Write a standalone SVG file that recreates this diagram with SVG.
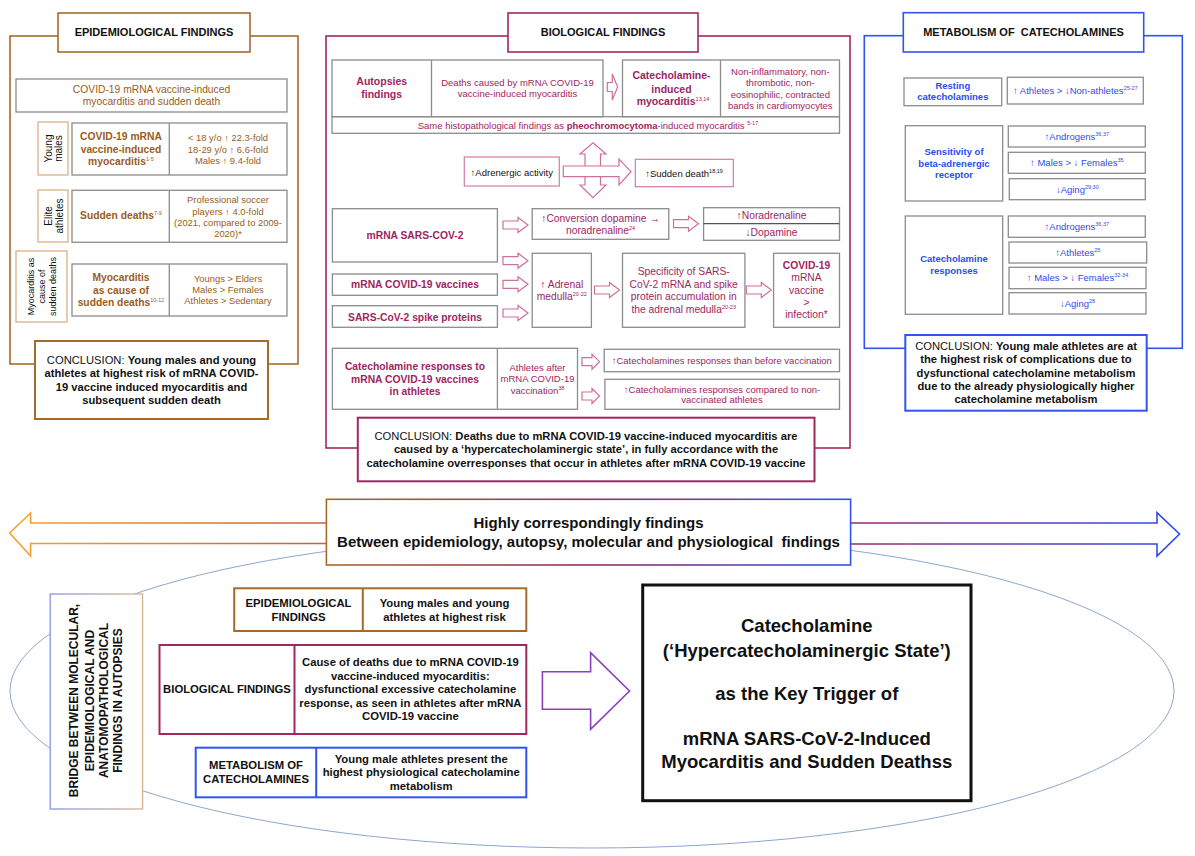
<svg xmlns="http://www.w3.org/2000/svg" width="1195" height="856" viewBox="0 0 1195 856">
<defs>
<style>
text{font-family:"Liberation Sans",Arial,Helvetica,sans-serif;text-anchor:middle}
.b{font-weight:bold}
.br{fill:#9a5c1c}
.mr{fill:#a02560}
.bl{fill:#2a4df0}
.k{fill:#111}
.gb{fill:#fff;stroke:#8c8c8c;stroke-width:1.3}
.gl{stroke:#8c8c8c;stroke-width:1.3}
.pk{fill:#fff;stroke:#d07ea6;stroke-width:1.2}
.pa{fill:#fff;stroke:#cf6f9c;stroke-width:1.2}
.fb{fill:#fff;stroke:#a86a2b;stroke-width:1.6}
.fm{fill:#fff;stroke:#a3275f;stroke-width:1.6}
.fl{fill:#fff;stroke:#2f54f0;stroke-width:1.6}
.lb{fill:#fff;stroke:#dbb084;stroke-width:1.3}
.s10{font-size:10.3px}
.s94{font-size:9.4px}
.s95{font-size:9.5px}
.s11{font-size:11.2px}
.bt{font-size:11.3px;font-weight:bold;fill:#111}
</style>
<linearGradient id="gL" gradientUnits="userSpaceOnUse" x1="10" y1="0" x2="326" y2="0"><stop offset="0" stop-color="#f7a12e"/><stop offset="1" stop-color="#c4613f"/></linearGradient>
<linearGradient id="gR" gradientUnits="userSpaceOnUse" x1="851" y1="0" x2="1180" y2="0"><stop offset="0" stop-color="#9a2a6c"/><stop offset="1" stop-color="#2b4cf2"/></linearGradient>
<linearGradient id="gBox" gradientUnits="userSpaceOnUse" x1="326" y1="0" x2="851" y2="0"><stop offset="0" stop-color="#a86a2b"/><stop offset="0.5" stop-color="#a02a62"/><stop offset="1" stop-color="#2f54f0"/></linearGradient>
<linearGradient id="gBr" gradientUnits="userSpaceOnUse" x1="50" y1="0" x2="143" y2="0"><stop offset="0" stop-color="#8494ec"/><stop offset="1" stop-color="#d9b48c"/></linearGradient>
<path id="sa" d="M0,-4 H15 V-7.5 L25,0 L15,7.5 V4 H0 Z"/>
<path id="sa2" d="M0,-4 H10 V-7.5 L17.5,0 L10,7.5 V4 H0 Z"/>
</defs>
<rect width="1195" height="856" fill="#fff"/>

<!-- background ellipse -->
<ellipse cx="592" cy="691" rx="582" ry="157" fill="none" stroke="#8ea6cf" stroke-width="1"/>

<!-- ============ EPIDEMIOLOGICAL PANEL ============ -->
<g id="epi-panel">
<rect x="10" y="36" width="288" height="328" fill="none" stroke="#a86a2b" stroke-width="1.6"/>
</g>
<g id="epi-title">
<rect class="fb" x="58" y="13" width="192" height="39"/>
<text class="b k" x="154" y="36" font-size="11">EPIDEMIOLOGICAL FINDINGS</text>
</g>
<g id="epi-top">
<rect class="gb" x="16" y="79" width="271" height="33"/>
<text class="br s10" x="151.5" y="93">COVID-19 mRNA vaccine-induced</text>
<text class="br s10" x="151.5" y="104.6">myocarditis and sudden death</text>
</g>
<g id="epi-young-label">
<rect class="lb" x="38" y="122" width="30" height="53"/>
<text class="k" font-size="10" transform="translate(53,148.5) rotate(-90)"><tspan x="0" y="-1.5">Young</tspan><tspan x="0" y="8.5">males</tspan></text>
</g>
<g id="epi-young">
<rect class="gb" x="72" y="123" width="215" height="52"/>
<line class="gl" x1="169.3" y1="123" x2="169.3" y2="175"/>
<text class="br b s10" x="121"><tspan x="121" y="140">COVID-19 mRNA</tspan><tspan x="121" y="152.6">vaccine-induced</tspan><tspan x="121" y="165">myocarditis<tspan font-size="5.5" font-weight="normal" dy="-4">1-5</tspan></tspan></text>
<text class="br s94" x="228" y="141.3">&lt; 18 y/o ↑ 22.3-fold</text>
<text class="br s94" x="228" y="153">18-29 y/o ↑ 6.6-fold</text>
<text class="br s94" x="228" y="164.3">Males ↑ 9.4-fold</text>
</g>
<g id="epi-elite-label">
<rect class="lb" x="38" y="190" width="30" height="52"/>
<text class="k" font-size="10" transform="translate(53,216) rotate(-90)"><tspan x="0" y="-1.2">Elite</tspan><tspan x="0" y="9.8">athletes</tspan></text>
</g>
<g id="epi-elite">
<rect class="gb" x="72" y="190.3" width="215" height="52"/>
<line class="gl" x1="169.3" y1="190.3" x2="169.3" y2="242.3"/>
<text class="br b s10" x="121" y="219.3">Sudden deaths<tspan font-size="5.5" font-weight="normal" dy="-4">7-9</tspan></text>
<text class="br s94" x="228" y="203">Professional soccer</text>
<text class="br s94" x="228" y="214.6">players ↑ 4.0-fold</text>
<text class="br s94" x="228" y="226">(2021, compared to 2009-</text>
<text class="br s94" x="228" y="237">2020)*</text>
</g>
<g id="epi-myo-label">
<rect class="lb" x="16" y="251" width="51" height="71"/>
<text class="k" font-size="9" transform="translate(41.5,286.5) rotate(-90)"><tspan x="0" y="-7.3">Myocarditis as</tspan><tspan x="0" y="3.5">cause of</tspan><tspan x="0" y="14.4">sudden deaths</tspan></text>
</g>
<g id="epi-myo">
<rect class="gb" x="72" y="264" width="215" height="52"/>
<line class="gl" x1="169.3" y1="264" x2="169.3" y2="316"/>
<text class="br b s10" x="121"><tspan x="121" y="281.3">Myocarditis</tspan><tspan x="121" y="293.6">as cause of</tspan><tspan x="121" y="305.6">sudden deaths<tspan font-size="5.5" font-weight="normal" dy="-4">10-12</tspan></tspan></text>
<text class="br s94" x="228" y="282.3">Youngs &gt; Elders</text>
<text class="br s94" x="228" y="293.3">Males &gt; Females</text>
<text class="br s94" x="228" y="304.3">Athletes &gt; Sedentary</text>
</g>
<g id="epi-conclusion">
<rect x="35" y="341" width="233" height="78" fill="#fff" stroke="#a86a2b" stroke-width="2"/>
<text class="k s11" x="151.5" y="363.9">CONCLUSION: <tspan class="b">Young males and young</tspan></text>
<text class="k s11 b" x="151.5" y="377.2">athletes at highest risk of mRNA COVID-</text>
<text class="k s11 b" x="151.5" y="390.6">19 vaccine induced myocarditis and</text>
<text class="k s11 b" x="151.5" y="403.9">subsequent sudden death</text>
</g>

<!-- ============ BIOLOGICAL PANEL ============ -->
<g id="bio-panel">
<rect x="326" y="36" width="524" height="412" fill="none" stroke="#a3275f" stroke-width="1.6"/>
</g>
<g id="bio-title">
<rect class="fm" x="508" y="13" width="190" height="39"/>
<text class="b k" x="603" y="36" font-size="11">BIOLOGICAL FINDINGS</text>
</g>
<g id="bio-histo">
<rect class="gb" x="332" y="116.7" width="507.5" height="16.6"/>
<text class="mr s95" x="588" y="128.8">Same histopathological findings as <tspan class="b">pheochromocytoma</tspan>-induced myocarditis <tspan font-size="5.5" dy="-4">5-17</tspan></text>
</g>
<g id="bio-autopsy">
<rect class="gb" x="332" y="60" width="271" height="56.7"/>
<line class="gl" x1="431.5" y1="60" x2="431.5" y2="116.7"/>
<text class="mr b" font-size="10.5" x="381.7" y="85.4">Autopsies</text>
<text class="mr b" font-size="10.5" x="381.7" y="98">findings</text>
<text class="mr s95" x="517.5" y="86">Deaths caused by mRNA COVID-19</text>
<text class="mr s95" x="517.5" y="97">vaccine-induced myocarditis</text>
</g>
<g id="bio-catmyo">
<rect class="gb" x="622.5" y="60" width="217" height="56.7"/>
<line class="gl" x1="720.5" y1="60" x2="720.5" y2="116.7"/>
<text class="mr b" font-size="10.5" x="671.5" y="79.4">Catecholamine-</text>
<text class="mr b" font-size="10.5" x="671.5" y="93">induced</text>
<text class="mr b" font-size="10.5" x="673" y="105.4">myocarditis<tspan font-size="5.5" font-weight="normal" dy="-4">13,14</tspan></text>
<text class="mr s95" x="780.3" y="75">Non-inflammatory, non-</text>
<text class="mr s95" x="780.3" y="86.3">thrombotic, non-</text>
<text class="mr s95" x="780.3" y="97.6">eosinophilic, contracted</text>
<text class="mr s95" x="780.3" y="109.3">bands in cardiomyocytes</text>
</g>
<g id="bio-adrenergic">
<rect class="pk" x="464.3" y="157" width="95" height="29"/>
<text class="k s95" x="511.8" y="175.6">↑Adrenergic activity</text>
</g>
<g id="bio-sudden">
<rect class="pk" x="635.3" y="159.3" width="98" height="27.4"/>
<text class="k s95" x="684" y="176.6">↑Sudden death<tspan font-size="5.5" dy="-4">18,19</tspan></text>
</g>
<g id="bio-mrna">
<rect class="gb" x="332.4" y="208.7" width="165" height="53.3"/>
<text class="mr b" font-size="10.3" x="415" y="239.2">mRNA SARS-COV-2</text>
</g>
<g id="bio-conversion">
<rect class="gb" x="532.2" y="208.7" width="136.6" height="30.6"/>
<text class="mr s10" x="600.5" y="222.2">↑Conversion dopamine →</text>
<text class="mr s10" x="600.5" y="234.2">noradrenaline<tspan font-size="5.5" dy="-4">24</tspan></text>
</g>
<g id="bio-nor">
<rect class="gb" x="703.6" y="207.7" width="135.9" height="32.6"/>
<line x1="703.6" y1="223.6" x2="839.5" y2="223.6" stroke="#555" stroke-width="1.2"/>
<text class="mr s10" x="771.5" y="219.3">↑Noradrenaline</text>
<text class="mr s10" x="771.5" y="235.6">↓Dopamine</text>
</g>
<g id="bio-vaccines">
<rect class="gb" x="332.4" y="274" width="165" height="21.3"/>
<text class="mr b" font-size="10.3" x="415" y="288">mRNA COVID-19 vaccines</text>
</g>
<g id="bio-spike">
<rect class="gb" x="332.4" y="305.7" width="165" height="21.6"/>
<text class="mr b" font-size="10.3" x="415" y="320.6">SARS-CoV-2 spike proteins</text>
</g>
<g id="bio-adrenal">
<rect class="gb" x="532.2" y="253.3" width="59.2" height="74"/>
<text class="mr s10" x="561.8" y="287.9">↑ Adrenal</text>
<text class="mr s10" x="561.8" y="299.6">medulla<tspan font-size="5.5" dy="-4">20-22</tspan></text>
</g>
<g id="bio-specificity">
<rect class="gb" x="622.5" y="253.3" width="122.4" height="74"/>
<text class="mr s10" x="683.7" y="275.4">Specificity of SARS-</text>
<text class="mr s10" x="683.7" y="288">CoV-2 mRNA and spike</text>
<text class="mr s10" x="683.7" y="300.4">protein accumulation in</text>
<text class="mr s10" x="683.7" y="312.7">the adrenal medulla<tspan font-size="5.5" dy="-4">20-23</tspan></text>
</g>
<g id="bio-covid">
<rect class="gb" x="773.6" y="253.3" width="65.9" height="74"/>
<text class="mr b s10" x="806.5" y="269.4">COVID-19</text>
<text class="mr s10" x="806.5" y="281.3">mRNA</text>
<text class="mr s10" x="806.5" y="294.3">vaccine</text>
<text class="mr s10" x="806.5" y="306.3">&gt;</text>
<text class="mr s10" x="806.5" y="318">infection*</text>
</g>
<g id="bio-athletes">
<rect class="gb" x="332.4" y="348.3" width="245.1" height="61"/>
<line class="gl" x1="497.4" y1="348.3" x2="497.4" y2="409.3"/>
<text class="mr b" font-size="10.3" x="415" y="370">Catecholamine responses to</text>
<text class="mr b" font-size="10.3" x="415" y="382.6">mRNA COVID-19 vaccines</text>
<text class="mr b" font-size="10.3" x="415" y="394.6">in athletes</text>
<text class="mr s95" x="537.5" y="371">Athletes after</text>
<text class="mr s95" x="537.5" y="382.3">mRNA COVID-19</text>
<text class="mr s95" x="537.5" y="393.6">vaccination<tspan font-size="5.5" dy="-4">38</tspan></text>
</g>
<g id="bio-before">
<rect class="gb" x="604.2" y="349.3" width="235.3" height="22.4"/>
<text class="mr s95" x="721.8" y="364">↑Catecholamines responses than before vaccination</text>
</g>
<g id="bio-compared">
<rect class="gb" x="604.9" y="379.3" width="234.6" height="30"/>
<text class="mr s95" x="722" y="392.6">↑Catecholamines responses compared to non-</text>
<text class="mr s95" x="722" y="403.3">vaccinated athletes</text>
</g>
<g id="bio-conclusion">
<rect x="357.8" y="417.7" width="456.7" height="63.6" fill="#fff" stroke="#a3275f" stroke-width="2"/>
<text class="k s11" x="586" y="439.9">CONCLUSION: <tspan class="b">Deaths due to mRNA COVID-19 vaccine-induced myocarditis are</tspan></text>
<text class="k s11 b" x="586" y="453.2">caused by a ‘hypercatecholaminergic state’, in fully accordance with the</text>
<text class="k s11 b" x="586" y="466.6">catecholamine overresponses that occur in athletes after mRNA COVID-19 vaccine</text>
</g>

<!-- ============ METABOLISM PANEL ============ -->
<g id="met-panel">
<rect x="864.3" y="35.7" width="318" height="312.6" fill="none" stroke="#2f54f0" stroke-width="1.6"/>
</g>
<g id="met-title">
<rect class="fl" x="903.3" y="12.7" width="240.4" height="39.3"/>
<text class="b k" x="1023.5" y="36" font-size="11">METABOLISM OF&#160; CATECHOLAMINES</text>
</g>
<g id="met-resting">
<rect class="gb" x="904" y="78" width="97.7" height="27.7"/>
<text class="bl b s95" x="952.8" y="89.3">Resting</text>
<text class="bl b s95" x="952.8" y="100.3">catecholamines</text>
</g>
<g id="met-resting-val">
<rect class="gb" x="1007.3" y="77.3" width="136" height="26.7"/>
<text class="bl s95" x="1075.3" y="94">↑ Athletes &gt; ↓Non-athletes<tspan font-size="5.5" dy="-4">25-27</tspan></text>
</g>
<g id="met-sensitivity">
<rect class="gb" x="905.3" y="125.7" width="97.4" height="75.3"/>
<text class="bl b s95" x="954" y="155.3">Sensitivity of</text>
<text class="bl b s95" x="954" y="166.6">beta-adrenergic</text>
<text class="bl b s95" x="954" y="178">receptor</text>
</g>
<g id="met-s-androgens">
<rect class="gb" x="1008.3" y="126" width="137" height="21"/>
<text class="bl s95" x="1076.8" y="139.8">↑Androgens<tspan font-size="5.5" dy="-4">36,37</tspan></text>
</g>
<g id="met-s-males">
<rect class="gb" x="1008.3" y="152.3" width="137" height="21"/>
<text class="bl s95" x="1076.8" y="166.1">↑ Males &gt; ↓ Females<tspan font-size="5.5" dy="-4">35</tspan></text>
</g>
<g id="met-s-aging">
<rect class="gb" x="1009.3" y="178.7" width="136" height="21"/>
<text class="bl s95" x="1077.3" y="192.5">↓Aging<tspan font-size="5.5" dy="-4">29,30</tspan></text>
</g>
<g id="met-responses">
<rect class="gb" x="905.3" y="216" width="97.4" height="98.3"/>
<text class="bl b s95" x="954" y="262.3">Catecholamine</text>
<text class="bl b s95" x="954" y="274">responses</text>
</g>
<g id="met-r-androgens">
<rect class="gb" x="1008.3" y="216" width="137" height="21.3"/>
<text class="bl s95" x="1076.8" y="230">↑Androgens<tspan font-size="5.5" dy="-4">36,37</tspan></text>
</g>
<g id="met-r-athletes">
<rect class="gb" x="1009" y="242" width="137.7" height="21"/>
<text class="bl s95" x="1077.8" y="255.8">↑Athletes<tspan font-size="5.5" dy="-4">25</tspan></text>
</g>
<g id="met-r-males">
<rect class="gb" x="1009" y="267.3" width="137" height="21.4"/>
<text class="bl s95" x="1077.5" y="281.3">↑ Males &gt; ↓ Females<tspan font-size="5.5" dy="-4">32-34</tspan></text>
</g>
<g id="met-r-aging">
<rect class="gb" x="1009" y="292.7" width="137" height="21.3"/>
<text class="bl s95" x="1077.5" y="306.6">↓Aging<tspan font-size="5.5" dy="-4">28</tspan></text>
</g>
<g id="met-conclusion">
<rect x="905.3" y="335" width="241.4" height="75.7" fill="#fff" stroke="#2f54f0" stroke-width="2"/>
<text class="k s11" x="1026" y="349.6">CONCLUSION: <tspan class="b">Young male athletes are at</tspan></text>
<text class="k s11 b" x="1026" y="363.2">the highest risk of complications due to</text>
<text class="k s11 b" x="1026" y="376.6">dysfunctional catecholamine metabolism</text>
<text class="k s11 b" x="1026" y="389.6">due to the already physiologically higher</text>
<text class="k s11 b" x="1026" y="403.2">catecholamine metabolism</text>
</g>

<!-- ============ CONNECTORS ============ -->
<g id="connectors">
<path class="pa" d="M607.3,82.5 H612.3 V74 L617.6,87 L612.3,100 V91.5 H607.3 Z"/>
<path class="pa" d="M585,154 H580 L593,142.7 L606,154 H600.5 V185 H606 L593,197.7 L580,185 H585 Z"/>
<path class="pa" d="M563.3,166 H619 V159 L631,171.7 L619,185 V176.7 H563.3 Z"/>
<use href="#sa" class="pa" x="503" y="225"/>
<use href="#sa" class="pa" x="673.5" y="223.7"/>
<use href="#sa" class="pa" x="503" y="260.7"/>
<use href="#sa" class="pa" x="503" y="284.3"/>
<use href="#sa" class="pa" x="503" y="313"/>
<use href="#sa" class="pa" x="594.5" y="290"/>
<use href="#sa" class="pa" x="746.3" y="290"/>
<use href="#sa2" class="pa" x="582" y="361.7"/>
<use href="#sa2" class="pa" x="582" y="396"/>
<path d="M326.4,523 H30.6 V513 L9.6,533 L30.6,556 V543.5 H326.4" fill="#fff" stroke="url(#gL)" stroke-width="1.6"/>
<path d="M850.6,523 H1157 V512.7 L1179.5,534 L1157,556 V544 H850.6" fill="#fff" stroke="url(#gR)" stroke-width="1.6"/>
<path d="M542.4,671.7 H590.6 V652.7 L629.5,691 L590.6,729.3 V709.3 H542.4 Z" fill="#fff" stroke="#8a3fc0" stroke-width="1.6"/>
</g>

<!-- ============ BOTTOM ============ -->
<g id="correspond-box">
<rect x="326.4" y="499.3" width="524.2" height="65.7" fill="#fff" stroke="url(#gBox)" stroke-width="1.6"/>
<text class="b k" font-size="15" x="588.5" y="528.3">Highly correspondingly findings</text>
<text class="b k" font-size="15" x="588.5" y="546.8">Between epidemiology, autopsy, molecular and physiological&#160; findings</text>
</g>
<g id="bridge-box">
<rect x="50.2" y="594" width="92.4" height="215" fill="#fff" stroke="url(#gBr)" stroke-width="1.3"/>
<text class="b k" font-size="12" transform="translate(96.4,700.5) rotate(-90)"><tspan x="0" y="-18.2">BRIDGE BETWEEN MOLECULAR,</tspan><tspan x="0" y="-2.1">EPIDEMIOLOGICAL AND</tspan><tspan x="0" y="11.2">ANATOMOPATHOLOGICAL</tspan><tspan x="0" y="25.2">FINDINGS IN AUTOPSIES</tspan></text>
</g>
<g id="sum-epi">
<rect x="234.2" y="588.3" width="292.1" height="42.7" fill="#fff" stroke="#a86a2b" stroke-width="2"/>
<line x1="362.8" y1="588.3" x2="362.8" y2="631" stroke="#a86a2b" stroke-width="2"/>
<text class="bt" x="298.5" y="606.7">EPIDEMIOLOGICAL</text>
<text class="bt" x="298.5" y="620.7">FINDINGS</text>
<text class="bt" x="444.5" y="607.3">Young males and young</text>
<text class="bt" x="444.5" y="620.7">athletes at highest risk</text>
</g>
<g id="sum-bio">
<rect x="159.5" y="645" width="366.8" height="89" fill="#fff" stroke="#a3275f" stroke-width="2"/>
<line x1="294.5" y1="645" x2="294.5" y2="734" stroke="#a3275f" stroke-width="2"/>
<text class="bt" x="227" y="693">BIOLOGICAL FINDINGS</text>
<text class="bt" x="410.4" y="666">Cause of deaths due to mRNA COVID-19</text>
<text class="bt" x="410.4" y="680">vaccine-induced myocarditis:</text>
<text class="bt" x="410.4" y="693.3">dysfunctional excessive catecholamine</text>
<text class="bt" x="410.4" y="707.3">response, as seen in athletes after mRNA</text>
<text class="bt" x="410.4" y="720">COVID-19 vaccine</text>
</g>
<g id="sum-met">
<rect x="195.7" y="747.7" width="330.6" height="49.6" fill="#fff" stroke="#2f54f0" stroke-width="2"/>
<line x1="316.2" y1="747.7" x2="316.2" y2="797.3" stroke="#2f54f0" stroke-width="2"/>
<text class="bt" x="256" y="769">METABOLISM OF</text>
<text class="bt" x="256" y="783">CATECHOLAMINES</text>
<text class="bt" x="421.2" y="763">Young male athletes present the</text>
<text class="bt" x="421.2" y="776.3">highest physiological catecholamine</text>
<text class="bt" x="421.2" y="790">metabolism</text>
</g>
<g id="key-trigger">
<rect x="642.7" y="585" width="328.3" height="215.7" fill="#fff" stroke="#111" stroke-width="3"/>
<text class="b k" font-size="18.5" x="806.8" y="631.5">Catecholamine</text>
<text class="b k" font-size="18.5" x="806.8" y="656.5">(‘Hypercatecholaminergic State’)</text>
<text class="b k" font-size="18.5" x="806.8" y="699.8">as the Key Trigger of</text>
<text class="b k" font-size="18.5" x="806.8" y="744.8">mRNA SARS-CoV-2-Induced</text>
<text class="b k" font-size="18.5" x="806.8" y="768.2">Myocarditis and Sudden Deathss</text>
</g>
</svg>
